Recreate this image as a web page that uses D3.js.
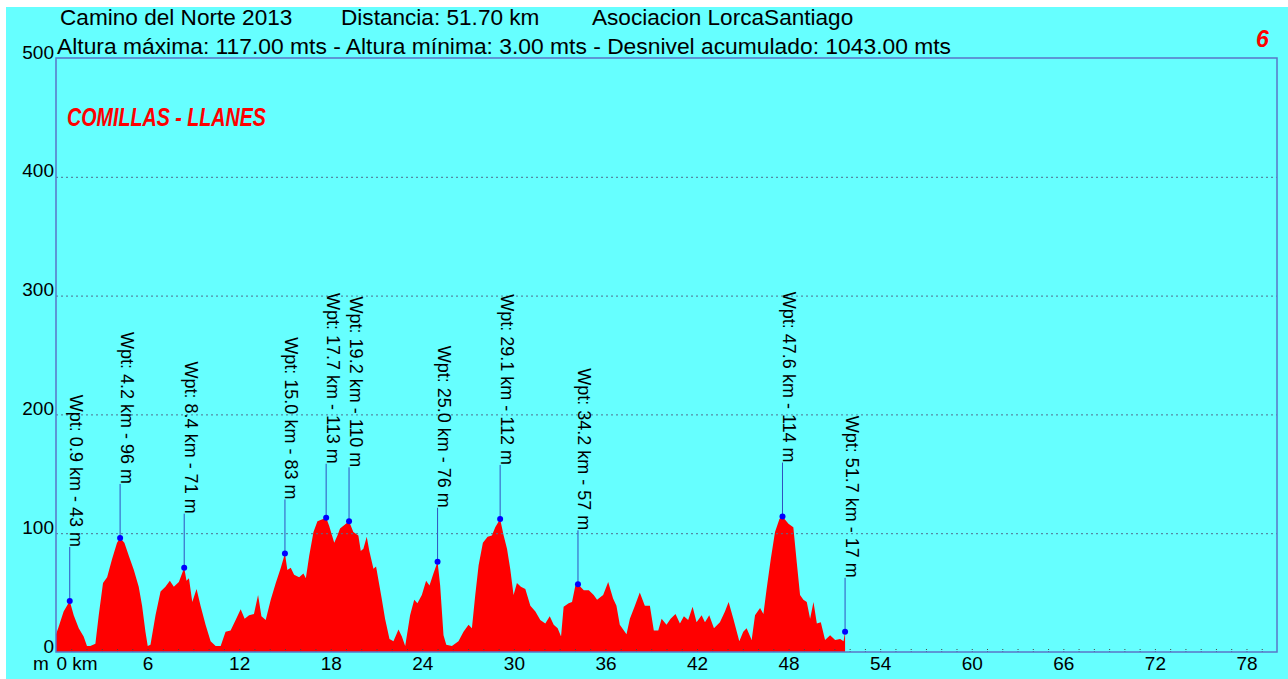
<!DOCTYPE html>
<html><head><meta charset="utf-8">
<script src="https://cdn.jsdelivr.net/npm/d3@7"></script>
<style>
html,body{margin:0;padding:0;background:#fff;}
svg{display:block;}
text{font-family:"Liberation Sans",Arial,sans-serif;}
</style></head>
<body>
<svg id="c" width="1288" height="679"></svg>
<script>
// ---- data ----
const profileKm = [0.00,0.17,0.50,0.90,1.16,1.49,1.81,2.03,2.25,2.58,2.80,3.08,3.35,3.67,4.00,4.20,4.48,4.77,5.10,5.42,5.64,5.86,6.01,6.19,6.52,6.85,7.17,7.46,7.72,8.05,8.40,8.55,8.71,8.93,9.21,9.47,9.80,10.13,10.46,10.79,11.11,11.44,11.77,12.10,12.36,12.65,12.97,13.24,13.46,13.74,14.07,14.40,14.73,15.00,15.16,15.38,15.60,15.93,16.21,16.37,16.59,16.87,17.13,17.70,17.90,18.23,18.44,18.61,19.20,19.48,19.81,19.97,20.14,20.36,20.53,20.80,20.97,21.19,21.34,21.56,21.85,22.11,22.44,22.66,22.88,23.20,23.47,23.68,23.97,24.25,24.47,24.73,25.00,25.17,25.39,25.57,25.94,26.37,26.70,27.03,27.25,27.47,27.69,27.97,28.28,28.56,28.78,29.10,29.33,29.55,29.76,29.98,30.20,30.46,30.75,31.08,31.41,31.73,32.06,32.35,32.61,32.87,33.09,33.26,33.59,33.81,34.03,34.20,34.58,34.91,35.23,35.45,35.85,36.18,36.50,36.72,36.94,37.38,37.60,37.93,38.25,38.58,38.91,39.17,39.46,39.68,40.00,40.27,40.59,40.88,41.14,41.42,41.71,41.97,42.30,42.52,42.80,43.11,43.50,43.83,44.07,44.38,44.77,45.03,45.25,45.58,45.80,46.13,46.35,46.56,46.83,47.11,47.40,47.60,47.99,48.31,48.53,48.75,48.97,49.19,49.41,49.63,49.85,50.11,50.39,50.72,51.05,51.38,51.60,51.70];
const profileElev = [15,21,34,43,31,20,13,5,5,7,31,58,63,78,92,96,92,81,69,55,39,17,5,6,31,51,55,60,55,59,71,60,62,42,53,39,23,9,5,5,17,18,27,36,28,31,32,48,30,27,44,58,71,83,69,71,65,63,66,62,81,101,110,113,106,92,98,104,110,101,98,85,87,97,85,70,72,56,45,28,11,9,19,13,5,31,44,41,48,60,56,66,76,56,14,6,5,9,17,23,20,48,73,92,97,98,105,112,98,87,70,48,58,55,53,39,34,27,24,30,23,20,13,38,41,42,56,57,52,52,48,44,48,59,45,39,23,15,28,39,50,39,39,18,18,28,23,28,32,24,30,27,38,25,31,25,31,20,25,34,42,28,9,17,20,10,31,37,32,53,78,101,112,114,108,105,76,48,44,42,28,42,24,25,10,14,10,11,9,17];
const wptKm   = [0.9,4.2,8.4,15.0,17.7,19.2,25.0,29.1,34.2,47.6,51.7];
const wptElev = [43,96,71,83,113,110,76,112,57,114,17];
const xTicks  = [0,6,12,18,24,30,36,42,48,54,60,66,72,78];
const yTicks  = [0,100,200,300,400,500];
const gridVals = [100,200,300,400];
const titleLine1 = ["Camino del Norte 2013","Distancia: 51.70 km","Asociacion LorcaSantiago"];
const titleLine2 = "Altura máxima: 117.00 mts - Altura mínima: 3.00 mts - Desnivel acumulado: 1043.00 mts";
const stageName = "COMILLAS - LLANES";
const stageNum = "6";

// ---- chart ----
const svg = d3.select("#c");
svg.append("rect").attr("x",6).attr("y",7).attr("width",1282).attr("height",672).attr("fill","#66ffff");

const x = d3.scaleLinear().domain([0,80]).range([56,1277]);
const y = d3.scaleLinear().domain([0,500]).range([652,58]);

const pts = profileKm.map((k,i)=>({k, e:profileElev[i]}));
const area = d3.area().x(d=>x(d.k)).y0(y(0)).y1(d=>y(d.e));
svg.append("path").datum(pts).attr("d",area).attr("fill","#ff0000");

// gridlines
svg.append("g").selectAll("line").data(gridVals).join("line")
  .attr("x1",x(0)).attr("x2",x(80)).attr("y1",d=>y(d)+0.5).attr("y2",d=>y(d)+0.5)
  .attr("stroke","#4f6f8f").attr("stroke-width",1).attr("stroke-dasharray","2,3");

// minor ticks
const minor = d3.range(1,80);
svg.append("g").attr("transform",`translate(0,${y(0)})`)
  .call(d3.axisBottom(x).tickValues(minor).tickSize(-4).tickFormat(""))
  .call(g=>g.select(".domain").remove())
  .call(g=>g.selectAll("line").attr("stroke","#444").attr("stroke-dasharray","1,1"));

// border
svg.append("rect").attr("x",x(0)).attr("y",y(500)).attr("width",x(80)-x(0)).attr("height",y(0)-y(500))
  .attr("fill","none").attr("stroke","#5a76c8").attr("stroke-width",1.5);

// y axis
svg.append("g").attr("transform",`translate(${x(0)-1},0)`)
  .call(d3.axisLeft(y).tickValues(yTicks).tickSize(0).tickPadding(1))
  .call(g=>g.select(".domain").remove())
  .call(g=>g.selectAll("text").attr("dy","0").attr("font-size",19)
     .attr("font-family","Liberation Sans, Arial, sans-serif").attr("fill","#000"));

// x axis
svg.append("g").attr("transform",`translate(0,${y(0)})`)
  .call(d3.axisBottom(x).tickValues(xTicks).tickSize(0).tickPadding(5)
     .tickFormat(d=>d===0?"0 km":d))
  .call(g=>g.select(".domain").remove())
  .call(g=>g.selectAll("text").attr("font-size",19)
     .attr("font-family","Liberation Sans, Arial, sans-serif").attr("fill","#000")
     .attr("text-anchor",d=>d===0?"start":"middle"));
svg.append("text").attr("x",33).attr("y",670).attr("font-size",19).attr("textLength",17).text("m");

// waypoints
const wg = svg.append("g");
wptKm.forEach((k,i)=>{
  const px = x(k), py = y(wptElev[i]);
  wg.append("line").attr("x1",px).attr("x2",px).attr("y1",py).attr("y2",py-54)
    .attr("stroke","#3050c0").attr("stroke-width",1);
  wg.append("circle").attr("cx",px).attr("cy",py).attr("r",3).attr("fill","#0000ff");
  wg.append("text").attr("transform",`translate(${px+0.5},${py-54}) rotate(90)`)
    .attr("text-anchor","end").attr("font-size",18).attr("fill","#000")
    .text(`Wpt: ${k.toFixed(1)} km - ${wptElev[i]} m`);
});

// titles
const t1x = [60,341,592];
svg.append("g").selectAll("text").data(titleLine1).join("text")
  .attr("x",(d,i)=>t1x[i]).attr("y",25).attr("font-size",22.6).attr("fill","#000").text(d=>d);
svg.append("text").attr("x",57).attr("y",54).attr("font-size",22.8).attr("fill","#000")
  .attr("textLength",894).attr("lengthAdjust","spacingAndGlyphs").text(titleLine2);

svg.append("text").attr("x",67).attr("y",126).attr("font-size",25)
  .attr("font-family","Open Sans, sans-serif").attr("font-weight","bold").attr("font-style","italic")
  .attr("fill","#ff0000").attr("textLength",199).attr("lengthAdjust","spacingAndGlyphs").text(stageName);
svg.append("text").attr("x",1256).attr("y",47).attr("font-size",23)
  .attr("font-family","Open Sans, sans-serif").attr("font-weight","bold").attr("font-style","italic")
  .attr("fill","#ff0000").text(stageNum);
</script>
</body></html>
